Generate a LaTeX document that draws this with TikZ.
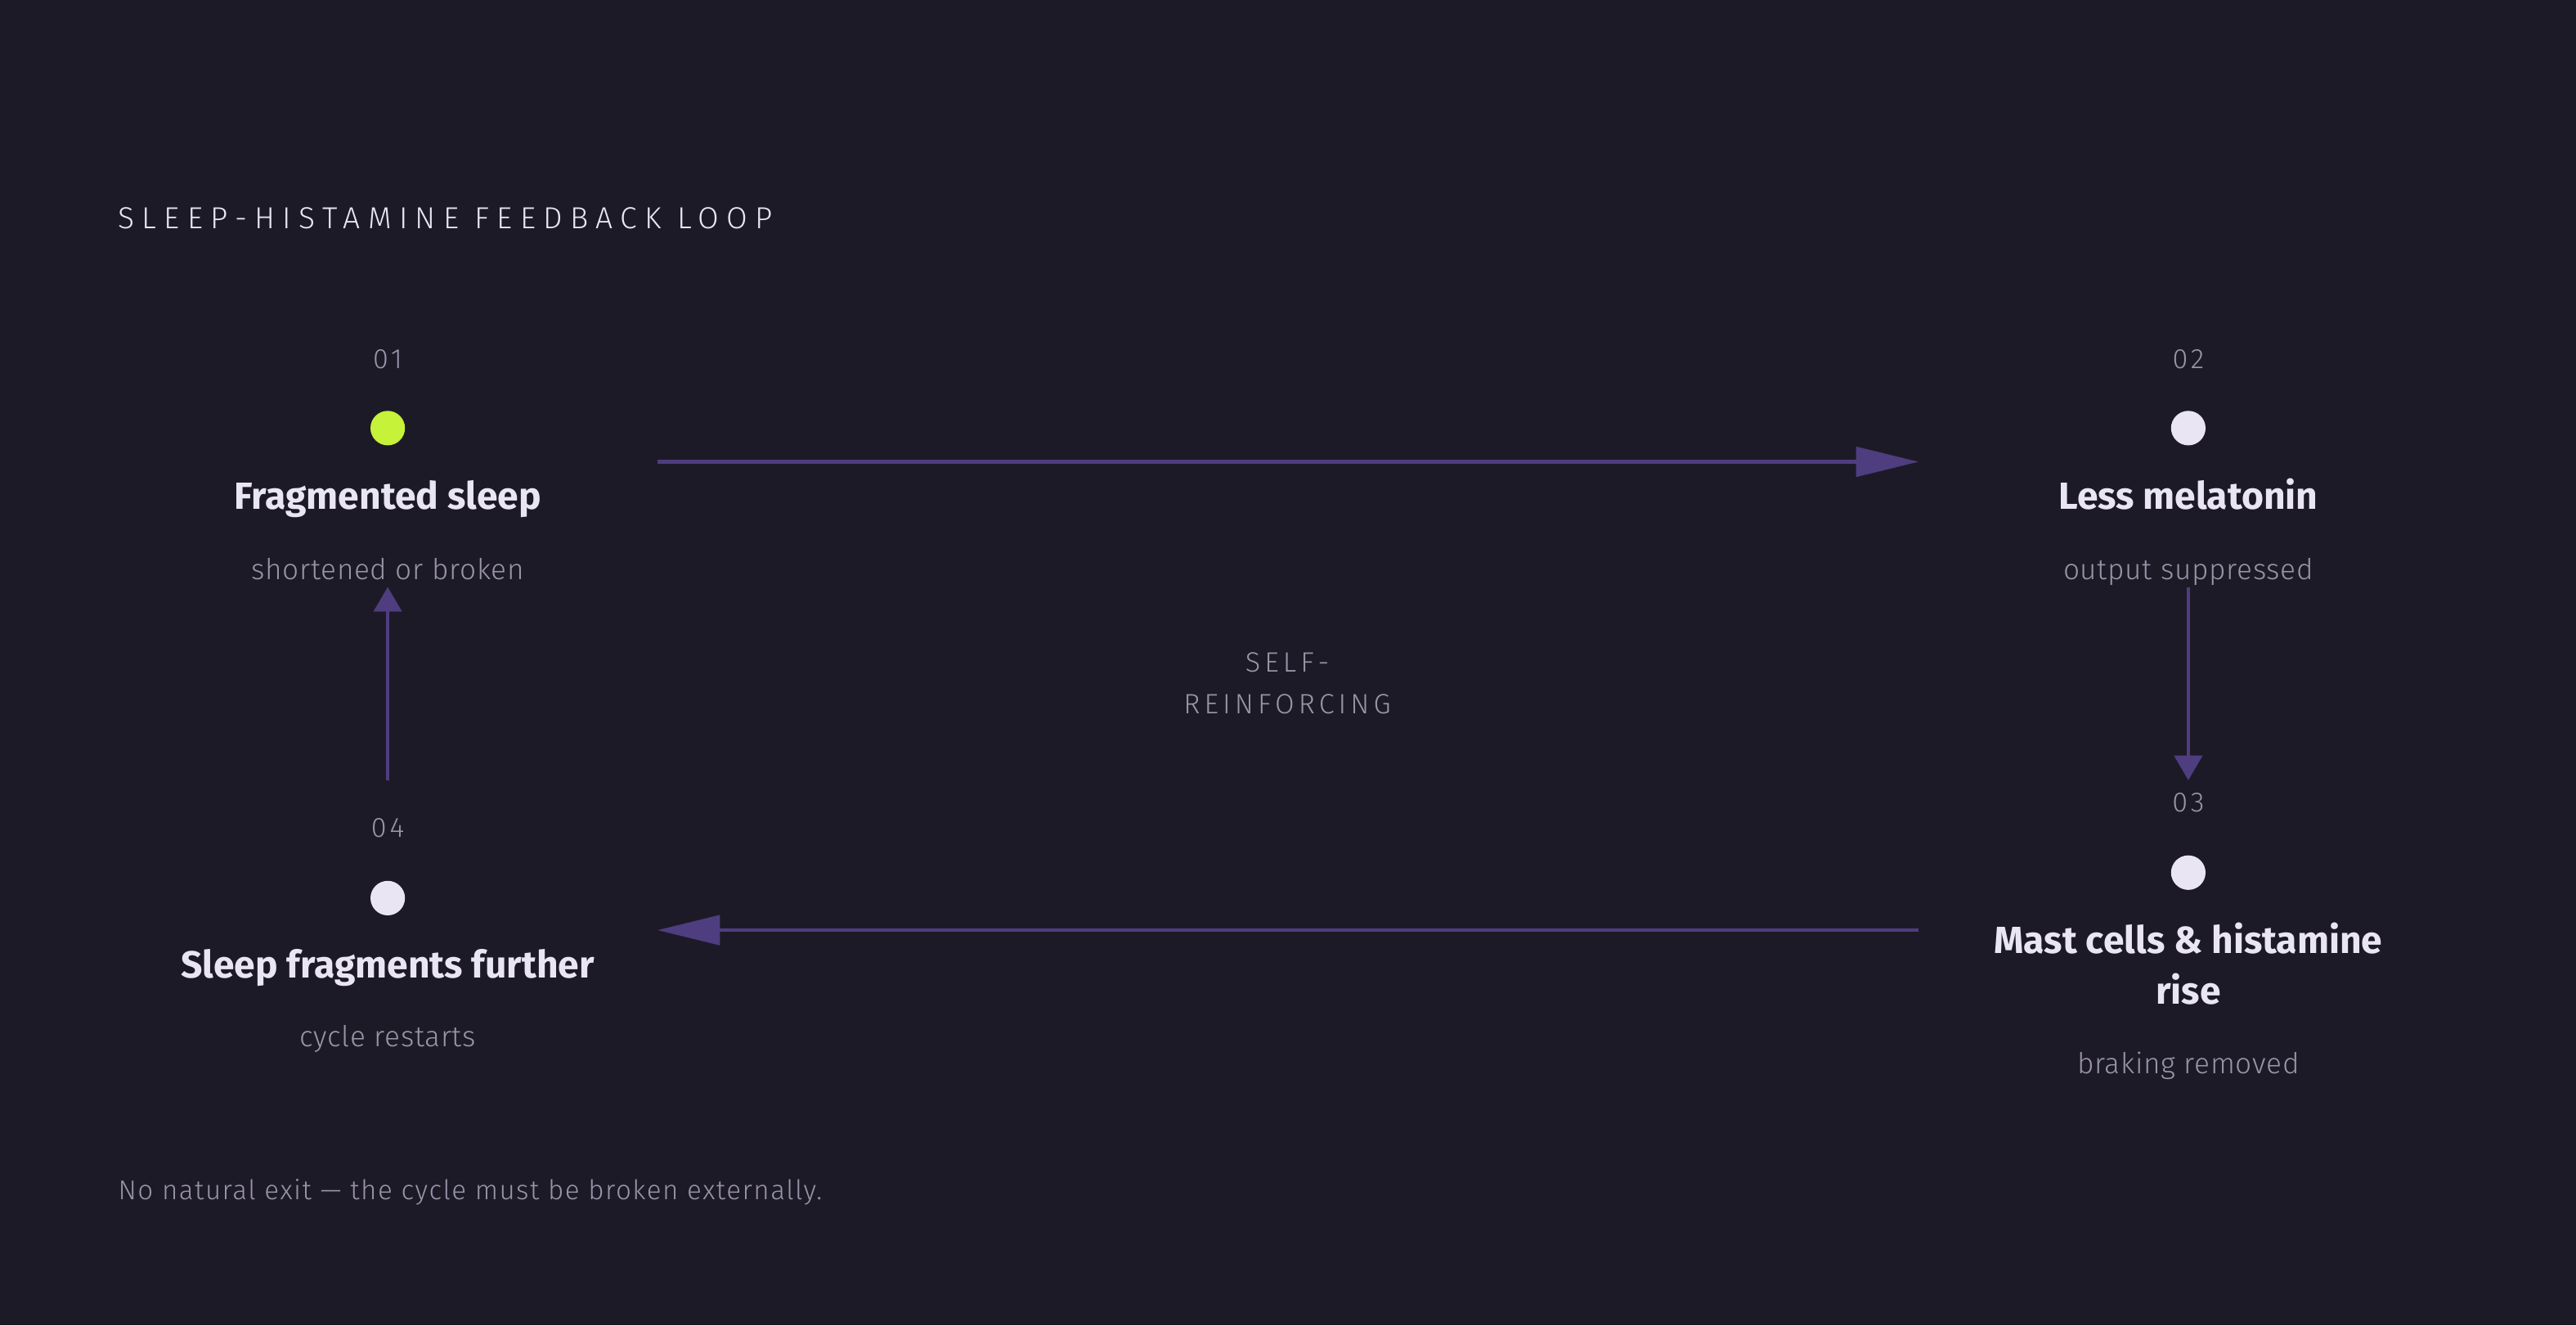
\documentclass[tikz,border=0pt]{standalone}
\usepackage{fontspec}
\setmainfont{Fira Sans}
\newfontfamily\lightfont{Fira Sans Light}
\usetikzlibrary{arrows.meta}
\definecolor{bg}{HTML}{1D1A27}
\definecolor{ink}{HTML}{E9E5F3}
\definecolor{muted}{HTML}{9A94A8}
\definecolor{loop}{HTML}{4E3D7F}
\definecolor{lime}{HTML}{C6F23A}
\tikzset{
  txt/.style={inner sep=0pt, outer sep=0pt, anchor=base},
  numtxt/.style={txt, text=muted, font=\lightfont\fontsize{17}{20}\selectfont\addfontfeature{LetterSpace=12}},
  headtxt/.style={txt, text=ink, font=\bfseries\fontsize{23}{31}\selectfont, align=center},
  subtxt/.style={txt, text=muted, font=\lightfont\fontsize{17.5}{20}\selectfont\addfontfeature{LetterSpace=2}},
  dotnode/.style={circle, inner sep=0pt, minimum size=21pt, fill=ink},
  stepbox/.style={inner sep=0pt, minimum width=328pt, minimum height=152pt},
  loopline/.style={draw=loop, line width=2.1pt},
  harrow/.style={loopline, -{Triangle[length=38pt,width=18pt]}},
  varrow/.style={loopline, -{Triangle[length=15pt,width=17pt]}},
}
\begin{document}
\begin{tikzpicture}[x=1pt,y=-1pt]
\fill[bg] (0,0) rectangle (1568,806.4);
\useasboundingbox (0,0) rectangle (1568,806.4);

% title
\node[txt, anchor=base west, text=ink, font=\lightfont\fontsize{18.5}{22}\selectfont\addfontfeature{LetterSpace=25}] (title) at (72,139) {SLEEP-HISTAMINE FEEDBACK LOOP};

% step boxes (invisible)
\node[stepbox] (s1) at (236,281) {};
\node[stepbox] (s2) at (1332,281) {};
\node[stepbox, minimum height=182pt] (s3) at (1332,566) {};
\node[stepbox, minimum height=182pt] (s4) at (236,566) {};

% step 1
\node[numtxt] (n1) at (236,224) {01};
\node[dotnode, fill=lime] (d1) at (236,260.5) {};
\node[headtxt] (h1) at (236,310) {Fragmented sleep};
\node[subtxt] (u1) at (236,352.5) {shortened or broken};

% step 2
\node[numtxt] (n2) at (1332,224) {02};
\node[dotnode] (d2) at (1332,260.5) {};
\node[headtxt] (h2) at (1332,310) {Less melatonin};
\node[subtxt] (u2) at (1332,352.5) {output suppressed};

% step 3
\node[numtxt] (n3) at (1332,494) {03};
\node[dotnode] (d3) at (1332,531) {};
\node[headtxt] (h3a) at (1332,580) {Mast cells \& histamine};
\node[headtxt] (h3b) at (1332,611) {rise};
\node[subtxt] (u3) at (1332,653.5) {braking removed};

% step 4
\node[numtxt] (n4) at (236,509.5) {04};
\node[dotnode] (d4) at (236,546.5) {};
\node[headtxt] (h4) at (236,595) {Sleep fragments further};
\node[subtxt] (u4) at (236,637) {cycle restarts};

% centre label
\node[txt, text=muted, font=\lightfont\fontsize{17}{20}\selectfont\addfontfeature{LetterSpace=15}] (c1) at (783.5,409) {SELF-};
\node[txt, text=muted, font=\lightfont\fontsize{17}{20}\selectfont\addfontfeature{LetterSpace=15}] (c2) at (783.5,434.5) {REINFORCING};

% footer
\node[txt, anchor=base west, text=muted, font=\lightfont\fontsize{16.5}{20}\selectfont\addfontfeature{LetterSpace=4.5}] (foot) at (72,730) {No natural exit — the cycle must be broken externally.};

% connectors
\draw[harrow] (s1.east) -- (s2.west);
\draw[varrow] (s2.south) -- (s3.north);
\draw[harrow] (s3.west) -- (s4.east);
\draw[varrow] (s4.north) -- (s1.south);
\end{tikzpicture}
\end{document}
